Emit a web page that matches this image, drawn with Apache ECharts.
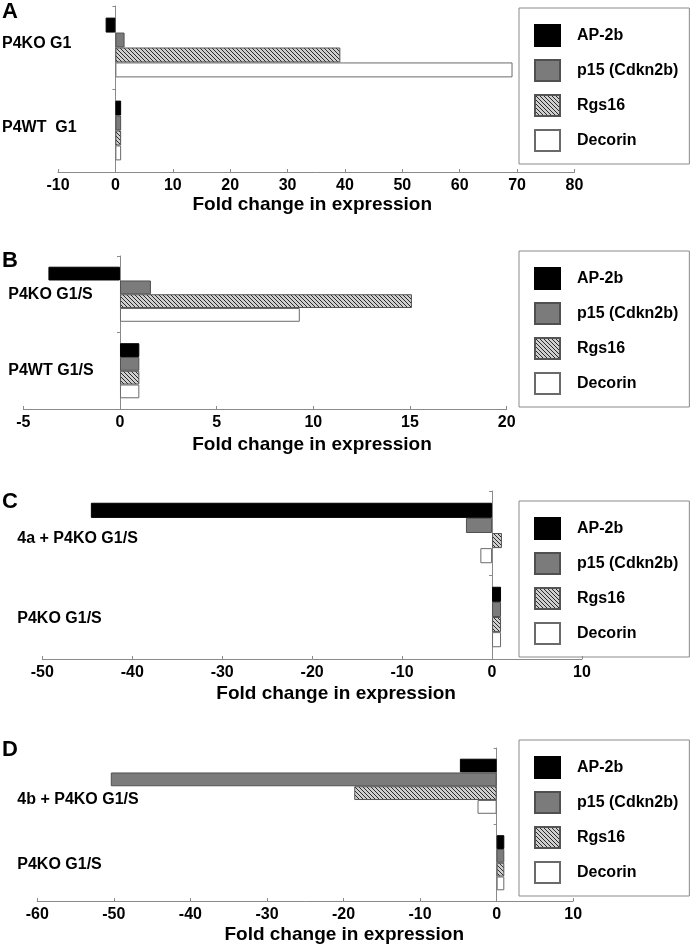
<!DOCTYPE html>
<html>
<head>
<meta charset="utf-8">
<script src="https://cdn.jsdelivr.net/npm/echarts@6/dist/echarts.min.js"></script>
<style>
html,body{margin:0;padding:0;background:#fff;}
#chart{width:693px;height:946px;}
</style>
</head>
<body>
<div id="chart"></div>
<script>
// ---------- data ----------
const seriesNames = ['AP-2b', 'p15 (Cdkn2b)', 'Rgs16', 'Decorin'];

const categoriesA = ['P4KO G1', 'P4WT  G1'];
const ap2bA = [-1.7, 1];
const p15A = [1.6, 1];
const rgs16A = [39.2, 1];
const decorinA = [69.2, 1];

const categoriesB = ['P4KO G1/S', 'P4WT G1/S'];
const ap2bB = [-3.7, 1];
const p15B = [1.6, 1];
const rgs16B = [15.1, 1];
const decorinB = [9.3, 1];

const categoriesC = ['4a + P4KO G1/S', 'P4KO G1/S'];
const ap2bC = [-44.6, 1];
const p15C = [-2.9, 1];
const rgs16C = [1.1, 1];
const decorinC = [-1.3, 1];

const categoriesD = ['4b + P4KO G1/S', 'P4KO G1/S'];
const ap2bD = [-4.8, 1];
const p15D = [-50.4, 1];
const rgs16D = [-18.6, 1];
const decorinD = [-2.5, 1];

const xTicksA = {min: -10, max: 80, interval: 10};
const xTicksB = {min: -5, max: 20, interval: 5};
const xTicksC = {min: -50, max: 10, interval: 10};
const xTicksD = {min: -60, max: 10, interval: 10};

const panelLetters = ['A', 'B', 'C', 'D'];
const axisTitle = 'Fold change in expression';

// ---------- layout / style ----------
const FONT = '"Liberation Sans", Arial, sans-serif';
const panels = [
  {cats: categoriesA, vals: [ap2bA, p15A, rgs16A, decorinA], ticks: xTicksA,
   grid: {left: 58, top: 6, width: 516.5, height: 166}, labelMargin: 56, labelShift: [-4, -3],
   nameGap: 22, namePad: [0, 8, 0, 0], legendTop: 8, letterY: 1},
  {cats: categoriesB, vals: [ap2bB, p15B, rgs16B, decorinB], ticks: xTicksB,
   grid: {left: 23.3, top: 256, width: 483.4, height: 153}, labelMargin: 15, labelShift: [0, 0],
   nameGap: 26, namePad: [0, 0, 0, 94], legendTop: 251, letterY: 250},
  {cats: categoriesC, vals: [ap2bC, p15C, rgs16C, decorinC], ticks: xTicksC,
   grid: {left: 42.3, top: 491, width: 539.7, height: 168}, labelMargin: 25, labelShift: [6, 2],
   nameGap: 25, namePad: [0, 0, 0, 48], legendTop: 501, letterY: 491},
  {cats: categoriesD, vals: [ap2bD, p15D, rgs16D, decorinD], ticks: xTicksD,
   grid: {left: 37.3, top: 748, width: 535.9, height: 153}, labelMargin: 20, labelShift: [13, 2],
   nameGap: 24, namePad: [0, 0, 0, 78], legendTop: 740, letterY: 739}
];

function hatch() {
  const c = document.createElement('canvas');
  c.width = 4; c.height = 4;
  const g = c.getContext('2d');
  g.fillStyle = '#cfcfcf';
  g.fillRect(0, 0, 4, 4);
  g.strokeStyle = '#2a2a2a';
  g.lineWidth = 1;
  g.beginPath();
  g.moveTo(-1, -1); g.lineTo(5, 5);
  g.moveTo(-1, 3); g.lineTo(1, 5);
  g.moveTo(3, -1); g.lineTo(5, 1);
  g.stroke();
  return c;
}
const hatchImg = hatch();
const seriesStyles = [
  {color: '#000000', borderColor: '#000000', borderWidth: 1},
  {color: '#7b7b7b', borderColor: '#505050', borderWidth: 1},
  {color: {image: hatchImg, repeat: 'repeat'}, borderColor: '#555555', borderWidth: 1},
  {color: '#ffffff', borderColor: '#6a6a6a', borderWidth: 1}
];

const catFont = {color: '#000', fontFamily: FONT, fontWeight: 'bold', fontSize: 16};

function labelRich(shifts) {
  const rich = {};
  shifts.forEach((d, j) => {
    const pad = d >= 0 ? [2 * d, 0, 0, 0] : [0, 0, -2 * d, 0];
    rich['s' + j] = Object.assign({padding: pad, lineHeight: 18}, catFont);
  });
  return rich;
}

const grids = [], xAxes = [], yAxes = [], series = [], legends = [], graphics = [];
panels.forEach((p, i) => {
  grids.push(Object.assign({containLabel: false, outerBoundsMode: 'none'}, p.grid));
  xAxes.push({
    type: 'value', gridIndex: i, min: p.ticks.min, max: p.ticks.max, interval: p.ticks.interval,
    splitLine: {show: false},
    axisLine: {show: true, lineStyle: {color: '#8a8a8a', width: 1}},
    axisTick: {show: true, inside: true, length: 3, lineStyle: {color: '#8a8a8a'}},
    axisLabel: {color: '#000', fontFamily: FONT, fontWeight: 'bold', fontSize: 16, margin: 6},
    name: axisTitle, nameLocation: 'middle', nameGap: p.nameGap,
    nameTextStyle: {color: '#000', fontFamily: FONT, fontWeight: 'bold', fontSize: 19, padding: p.namePad}
  });
  // axis line at zero
  yAxes.push({
    type: 'category', gridIndex: i, data: p.cats, inverse: true,
    axisLine: {show: true, onZero: true, lineStyle: {color: '#8a8a8a', width: 1}},
    axisTick: {show: true, length: 3, lineStyle: {color: '#8a8a8a'}},
    axisLabel: {show: false}, splitLine: {show: false}
  });
  // category labels at the left
  yAxes.push({
    type: 'category', gridIndex: i, data: p.cats, inverse: true, position: 'left',
    axisLine: {show: false, onZero: false}, axisTick: {show: false}, splitLine: {show: false},
    axisLabel: Object.assign({
      margin: p.labelMargin, align: 'left',
      formatter: (v, idx) => '{s' + idx + '|' + v + '}',
      rich: labelRich(p.labelShift)
    }, catFont)
  });
  seriesNames.forEach((name, k) => {
    series.push({
      type: 'bar', name: name, xAxisIndex: i, yAxisIndex: 2 * i,
      data: p.vals[k], barGap: '0%', barCategoryGap: '28%',
      itemStyle: seriesStyles[k], emphasis: {disabled: true}
    });
  });
  legends.push({
    orient: 'vertical', left: 519, top: p.legendTop,
    data: seriesNames, icon: 'rect', itemWidth: 25, itemHeight: 21, itemGap: 12,
    padding: [16, 11, 12, 15], borderColor: '#8a8a8a', borderWidth: 1,
    selectedMode: false,
    textStyle: {color: '#000', fontFamily: FONT, fontWeight: 'bold', fontSize: 16, padding: [0, 0, 0, 12]}
  });
  graphics.push({
    type: 'text', left: 2, top: p.letterY,
    style: {text: panelLetters[i], font: 'bold 22px ' + FONT, fill: '#000'}
  });
});

const chart = echarts.init(document.getElementById('chart'), null, {renderer: 'canvas'});
chart.setOption({
  animation: false,
  backgroundColor: '#fff',
  grid: grids, xAxis: xAxes, yAxis: yAxes, series: series,
  legend: legends, graphic: graphics
});
</script>
</body>
</html>
